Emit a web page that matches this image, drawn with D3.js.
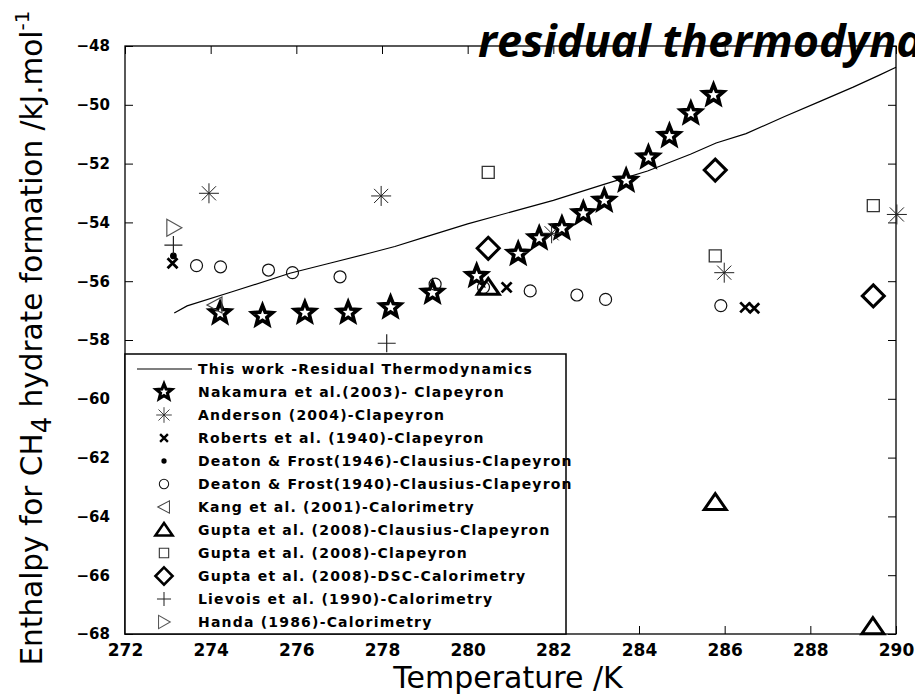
<!DOCTYPE html>
<html>
<head>
<meta charset="utf-8">
<script src="https://cdn.jsdelivr.net/npm/d3@7"></script>
<style>
  html, body { margin: 0; padding: 0; background: #fff; overflow: hidden; }
</style>
</head>
<body>
<div id="chart"></div>
<script>
// residual thermodynamics curve
const lineT = [273.15, 273.45, 274.5, 275.85, 276.8, 277.7, 278.3, 279.0, 280.0, 281.0, 282.0, 283.2, 284.2, 285.2, 285.8, 286.5, 287.4, 288.2, 289.0, 289.6, 290.0];
const lineH = [-57.08, -56.84, -56.36, -55.73, -55.38, -55.05, -54.82, -54.5, -54.05, -53.65, -53.25, -52.7, -52.25, -51.68, -51.3, -50.98, -50.4, -49.9, -49.4, -49.0, -48.72];

// experimental data
const nakamuraT = [274.22, 275.21, 276.2, 277.21, 278.2, 279.18, 280.21, 281.18, 281.67, 282.2, 282.7, 283.19, 283.7, 284.22, 284.71, 285.21, 285.74];
const nakamuraH = [-57.09, -57.18, -57.07, -57.07, -56.89, -56.39, -55.82, -55.07, -54.54, -54.2, -53.69, -53.26, -52.58, -51.79, -51.06, -50.29, -49.67];
const andersonT = [273.96, 277.98, 281.96, 285.99, 290.02];
const andersonH = [-53.01, -53.1, -54.37, -55.71, -53.73];
const robertsT = [273.11, 280.91, 286.48, 286.69];
const robertsH = [-55.39, -56.21, -56.89, -56.92];
const deaton46T = [273.13];
const deaton46H = [-55.14];
const deaton40T = [273.67, 274.23, 275.35, 275.91, 277.02, 279.24, 280.37, 281.46, 282.55, 283.22, 285.91];
const deaton40H = [-55.47, -55.51, -55.62, -55.71, -55.85, -56.1, -56.21, -56.33, -56.47, -56.62, -56.83];
const kangT = [274.1];
const kangH = [-56.81];
const guptaCCT = [280.48, 285.78, 289.46];
const guptaCCH = [-56.21, -63.53, -67.75];
const guptaClT = [280.48, 285.78, 289.47];
const guptaClH = [-52.3, -55.14, -53.43];
const guptaDscT = [280.48, 285.78, 289.47];
const guptaDscH = [-54.88, -52.22, -56.5];
const lievoisT = [273.13, 278.11];
const lievoisH = [-54.77, -58.11];
const handaT = [273.14];
const handaH = [-54.18];

const xTicks = [272, 274, 276, 278, 280, 282, 284, 286, 288, 290];
const yTicks = [-48, -50, -52, -54, -56, -58, -60, -62, -64, -66, -68];

const legendLabels = [
  "This work -Residual Thermodynamics",
  "Nakamura et al.(2003)- Clapeyron",
  "Anderson (2004)-Clapeyron",
  "Roberts et al. (1940)-Clapeyron",
  "Deaton & Frost(1946)-Clausius-Clapeyron",
  "Deaton & Frost(1940)-Clausius-Clapeyron",
  "Kang et al. (2001)-Calorimetry",
  "Gupta et al. (2008)-Clausius-Clapeyron",
  "Gupta et al. (2008)-Clapeyron",
  "Gupta et al. (2008)-DSC-Calorimetry",
  "Lievois et al. (1990)-Calorimetry",
  "Handa (1986)-Calorimetry"
];

const width = 915;
const height = 696;
const margin = { top: 46, right: 19, bottom: 62, left: 125 };

// marker shapes, k = scale
function starPath(ro, ri) {
  const pts = d3.range(10).map(i => {
    const a = (-90 + i * 36) * Math.PI / 180;
    const r = i % 2 ? ri : ro;
    return [r * Math.cos(a), r * Math.sin(a)];
  });
  return "M" + pts.map(p => p.join(",")).join("L") + "Z";
}
const markers = {
  star: { d: k => starPath(10.5 * k, 4.6 * k), fill: "#fff", stroke: "#000", sw: 3.6 },
  asterisk: { d: k => { const r = 10 * k, q = r * 0.707;
      return `M${-r},0H${r}M0,${-r}V${r}M${-q},${-q}L${q},${q}M${-q},${q}L${q},${-q}`; },
    fill: "none", stroke: "#222", sw: 1 },
  cross: { d: k => { const r = 5 * k; return `M${-r},${-r}L${r},${r}M${-r},${r}L${r},${-r}`; },
    fill: "none", stroke: "#000", sw: 2.8 },
  dot: { d: k => d3.symbol(d3.symbolCircle, 36 * k * k)(), fill: "#000", stroke: "none", sw: 0 },
  circle: { d: k => d3.symbol(d3.symbolCircle, Math.PI * 36 * k * k)(), fill: "none", stroke: "#111", sw: 1.2 },
  triLeft: { d: k => `M${-8 * k},0L${7 * k},${-8 * k}L${7 * k},${8 * k}Z`, fill: "none", stroke: "#444", sw: 1.2 },
  triUp: { d: k => `M0,${-9 * k}L${11 * k},${7 * k}L${-11 * k},${7 * k}Z`, fill: "none", stroke: "#000", sw: 3 },
  square: { d: k => `M${-6 * k},${-6 * k}H${6 * k}V${6 * k}H${-6 * k}Z`, fill: "none", stroke: "#333", sw: 1.3 },
  diamond: { d: k => `M0,${-11 * k}L${11 * k},0L0,${11 * k}L${-11 * k},0Z`, fill: "none", stroke: "#000", sw: 3 },
  plus: { d: k => { const r = 9 * k; return `M${-r},0H${r}M0,${-r}V${r}`; }, fill: "none", stroke: "#222", sw: 1.2 },
  triRight: { d: k => `M${8 * k},0L${-7 * k},${-8.5 * k}L${-7 * k},${8.5 * k}Z`, fill: "none", stroke: "#555", sw: 1.2 }
};

const series = [
  { T: nakamuraT, H: nakamuraH, m: "star" },
  { T: andersonT, H: andersonH, m: "asterisk" },
  { T: robertsT, H: robertsH, m: "cross" },
  { T: deaton46T, H: deaton46H, m: "dot" },
  { T: deaton40T, H: deaton40H, m: "circle" },
  { T: kangT, H: kangH, m: "triLeft" },
  { T: guptaCCT, H: guptaCCH, m: "triUp" },
  { T: guptaClT, H: guptaClH, m: "square" },
  { T: guptaDscT, H: guptaDscH, m: "diamond" },
  { T: lievoisT, H: lievoisH, m: "plus" },
  { T: handaT, H: handaH, m: "triRight" }
];

const svg = d3.select("#chart")
  .append("svg")
  .attr("width", width)
  .attr("height", height)
  .style("background-color", "white");

const x = d3.scaleLinear()
  .domain([272, 290])
  .range([margin.left, width - margin.right]);

const y = d3.scaleLinear()
  .domain([-68, -48])
  .range([height - margin.bottom, margin.top]);

// Eixos (ticks para dentro)
const tickFont = g => g.selectAll("text")
  .style("font-family", "DejaVu Sans")
  .style("font-weight", "bold")
  .attr("fill", "#000");

svg.append("g")
  .attr("transform", `translate(0,${height - margin.bottom})`)
  .call(d3.axisBottom(x).tickValues(xTicks).tickSize(-8).tickPadding(10).tickFormat(d3.format("d")))
  .call(g => g.select(".domain").remove())
  .call(tickFont)
  .call(g => g.selectAll("text").style("font-size", "17px"));

svg.append("g")
  .attr("transform", `translate(0,${margin.top})`)
  .call(d3.axisTop(x).tickValues(xTicks).tickSize(-8).tickFormat(""))
  .call(g => g.select(".domain").remove());

svg.append("g")
  .attr("transform", `translate(${margin.left},0)`)
  .call(d3.axisLeft(y).tickValues(yTicks).tickSize(-8).tickPadding(15).tickFormat(d3.format("d")))
  .call(g => g.select(".domain").remove())
  .call(tickFont)
  .call(g => g.selectAll("text").style("font-size", "15px"));

svg.append("g")
  .attr("transform", `translate(${width - margin.right},0)`)
  .call(d3.axisRight(y).tickValues(yTicks).tickSize(-8).tickFormat(""))
  .call(g => g.select(".domain").remove());

svg.append("rect")
  .attr("x", margin.left)
  .attr("y", margin.top)
  .attr("width", width - margin.left - margin.right)
  .attr("height", height - margin.top - margin.bottom)
  .attr("fill", "none")
  .attr("stroke", "#000")
  .attr("stroke-width", 1.3);

// Curva do modelo
const lineData = lineT.map((t, i) => ({ t, h: lineH[i] }));
svg.append("path")
  .datum(lineData)
  .attr("fill", "none")
  .attr("stroke", "#000")
  .attr("stroke-width", 1.2)
  .attr("d", d3.line().x(d => x(d.t)).y(d => y(d.h)));

// Pontos experimentais
series.forEach(s => {
  const mk = markers[s.m];
  const pts = s.T.map((t, i) => ({ t, h: s.H[i] }));
  svg.append("g")
    .selectAll("path")
    .data(pts)
    .enter()
    .append("path")
    .attr("transform", d => `translate(${x(d.t)},${y(d.h)})`)
    .attr("d", mk.d(1))
    .attr("fill", mk.fill)
    .attr("stroke", mk.stroke)
    .attr("stroke-width", mk.sw)
    .attr("stroke-linejoin", "miter");
});

// Legenda
const legX = margin.left, legY = 354, legW = 441, legH = height - margin.bottom - legY;
const leg = svg.append("g");
leg.append("rect")
  .attr("x", legX)
  .attr("y", legY)
  .attr("width", legW)
  .attr("height", legH)
  .attr("fill", "#fff")
  .attr("stroke", "#000")
  .attr("stroke-width", 1.5);

const rowY = i => 369 + i * 23;
leg.append("line")
  .attr("x1", 137).attr("x2", 192)
  .attr("y1", rowY(0)).attr("y2", rowY(0))
  .attr("stroke", "#000").attr("stroke-width", 1.2);

series.forEach((s, i) => {
  const mk = markers[s.m];
  leg.append("path")
    .attr("transform", `translate(164,${rowY(i + 1)})`)
    .attr("d", mk.d(0.78))
    .attr("fill", mk.fill)
    .attr("stroke", mk.stroke)
    .attr("stroke-width", mk.sw * 0.85);
});

leg.selectAll("text.leg")
  .data(legendLabels)
  .enter()
  .append("text")
  .attr("class", "leg")
  .attr("x", 198)
  .attr("y", (d, i) => rowY(i) + 5)
  .style("font-family", "DejaVu Sans")
  .style("font-weight", "bold")
  .style("font-size", "14px")
  .style("letter-spacing", "1.2px")
  .text(d => d);

// Rótulo do eixo X
svg.append("text")
  .attr("x", 508)
  .attr("y", 688)
  .attr("text-anchor", "middle")
  .style("font-family", "DejaVu Sans")
  .style("font-size", "30px")
  .text("Temperature /K");

// Rótulo do eixo Y
const yl = svg.append("text")
  .attr("transform", "translate(42,338) rotate(-90)")
  .attr("text-anchor", "middle")
  .style("font-family", "DejaVu Sans")
  .style("font-size", "29.5px");
yl.append("tspan").text("Enthalpy for CH");
yl.append("tspan").attr("dy", 9).style("font-size", "26px").text("4");
yl.append("tspan").attr("dy", -9).text(" hydrate formation /kJ.mol");
yl.append("tspan").attr("dy", -13).style("font-size", "20px").text("-1");

// Título
svg.append("text")
  .attr("x", 478)
  .attr("y", 57)
  .style("font-family", "Open Sans")
  .style("font-weight", "bold")
  .style("font-style", "italic")
  .style("font-size", "45px")
  .text("residual thermodynamics");
</script>
</body>
</html>
